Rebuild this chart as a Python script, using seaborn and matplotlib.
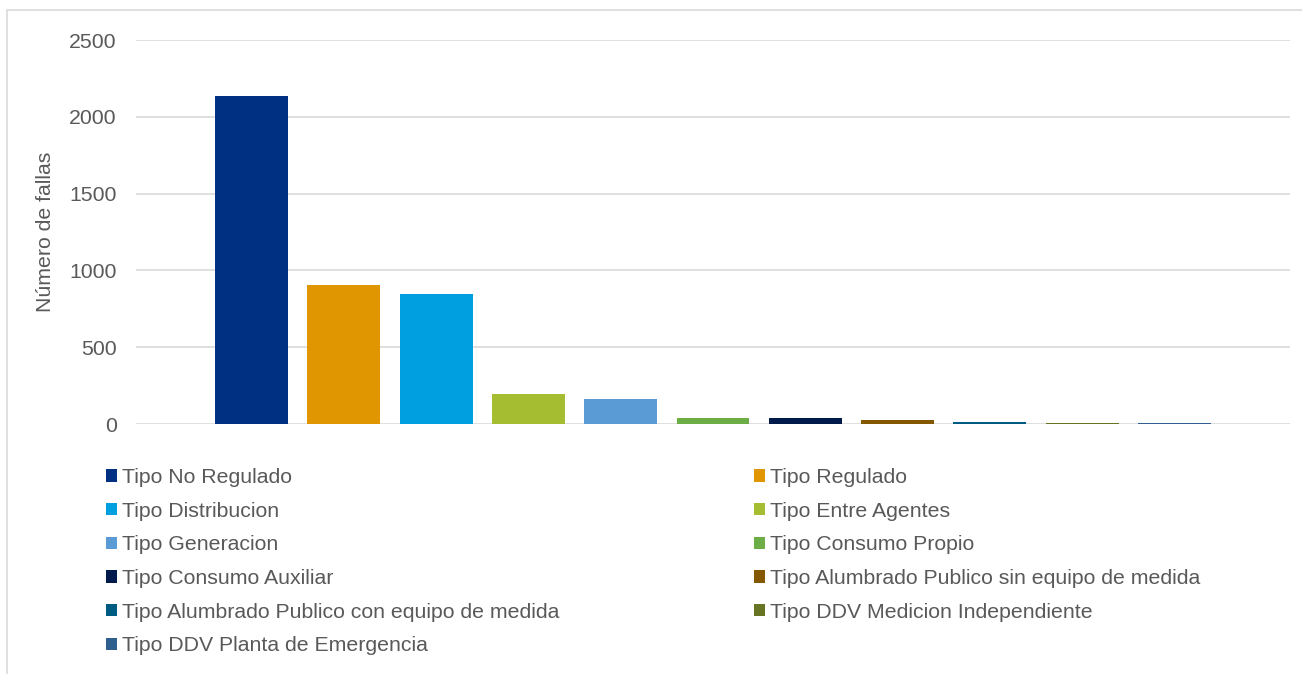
import matplotlib
matplotlib.use("Agg")
import matplotlib.pyplot as plt
from matplotlib.patches import Patch, Rectangle
import seaborn as sns
import pandas as pd

categories = [
    "Tipo No Regulado",
    "Tipo Regulado",
    "Tipo Distribucion",
    "Tipo Entre Agentes",
    "Tipo Generacion",
    "Tipo Consumo Propio",
    "Tipo Consumo Auxiliar",
    "Tipo Alumbrado Publico sin equipo de medida",
    "Tipo Alumbrado Publico con equipo de medida",
    "Tipo DDV Medicion Independiente",
    "Tipo DDV Planta de Emergencia",
]
values = [2135, 905, 846, 195, 163, 39, 39, 26, 13, 7, 5]
yticks = [0, 500, 1000, 1500, 2000, 2500]
ylabel = "Número de fallas"

palette = ["#003082", "#E09600", "#009FDF", "#A4BD31", "#5B9BD5", "#6DAD46",
           "#001A4C", "#845800", "#005B82", "#667423", "#2E5F8F"]

sns.set_theme(style="white")
plt.rcParams["font.family"] = ["Liberation Sans", "DejaVu Sans"]
text_color = "#595959"
grid_color = "#D9D9D9"
fs = 15.3

W, H = 1302, 674
fig = plt.figure(figsize=(W / 100, H / 100), dpi=100)
ax = fig.add_axes([136 / W, (H - 424) / H, (1290 - 136) / W, (424 - 40) / H])

df = pd.DataFrame({"cat": categories, "val": values})
sns.barplot(data=df, x="cat", y="val", hue="cat", palette=palette, order=categories,
            hue_order=categories, legend=False, width=0.79, saturation=1, ax=ax)
for p in ax.patches:
    p.set_zorder(3)
    p.set_linewidth(0)

ax.set_xlim(-1.25, len(categories) - 1 + 1.25)
ax.set_ylim(0, 2500)
ax.set_yticks(yticks)
ax.set_yticklabels([str(t) for t in yticks], color=text_color, fontsize=fs)
ax.set_xticks([])
ax.set_xlabel("")
ax.set_ylabel(ylabel, color=text_color, fontsize=fs, labelpad=10)
ax.tick_params(axis="y", length=0, pad=14)
ax.yaxis.grid(True, color=grid_color, linewidth=1.2, zorder=0)
ax.set_axisbelow(True)
for s in ax.spines.values():
    s.set_visible(False)

# legend: two columns, row-major order
handles = [Patch(facecolor=c, edgecolor="none") for c in palette]
col1 = list(range(0, len(categories), 2))
col2 = list(range(1, len(categories), 2))
leg_kw = dict(loc="upper left", frameon=False, fontsize=fs, borderpad=0, borderaxespad=0,
              handlelength=0.52, handleheight=0.52, handletextpad=0.22, labelspacing=0.69,
              labelcolor=text_color)
leg1 = fig.legend([handles[i] for i in col1], [categories[i] for i in col1],
                  bbox_to_anchor=(106 / W, (H - 468) / H), **leg_kw)
leg2 = fig.legend([handles[i] for i in col2], [categories[i] for i in col2],
                  bbox_to_anchor=(754 / W, (H - 468) / H), **leg_kw)

# chart border
fig.patches.append(Rectangle((7 / W, -0.1), 1.2, (H - 10) / H + 0.1, transform=fig.transFigure,
                             fill=False, edgecolor=grid_color, linewidth=1.2))

fig.savefig("out.png", dpi=100)
